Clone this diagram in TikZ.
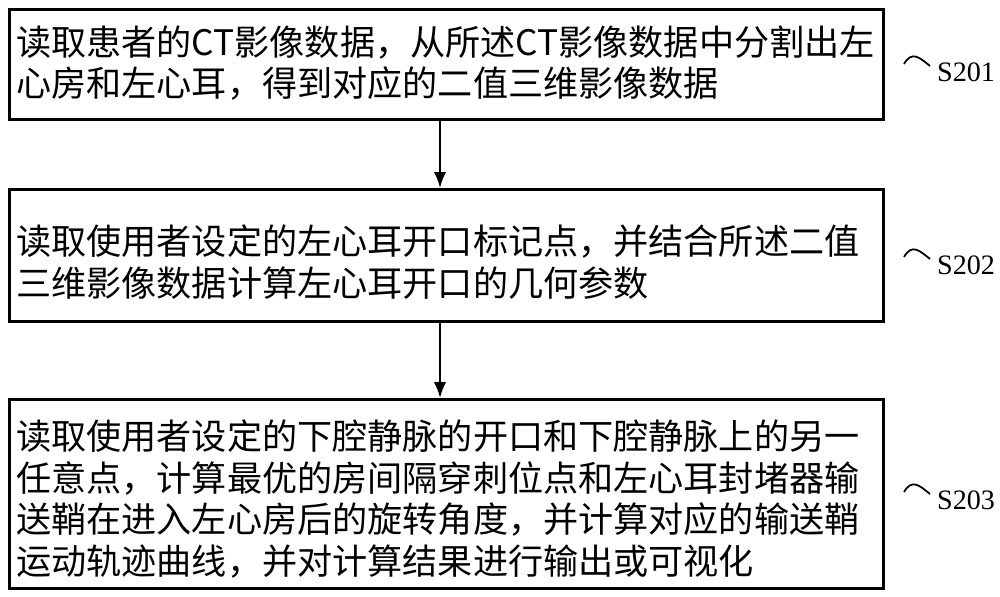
\documentclass[tikz,border=0pt]{standalone}
\usepackage{fontspec}
\setmainfont{Liberation Serif}
\newfontfamily\cjk{Noto Sans CJK SC}
\usetikzlibrary{arrows.meta}
\begin{document}
\begin{tikzpicture}[x=0.02cm,y=-0.02cm,
  stepbox/.style={draw,line width=1.6pt,anchor=north west,inner sep=0pt},
  txt/.style={anchor=west,align=left,font=\cjk\fontsize{20}{23.8}\selectfont},
  lab/.style={anchor=west,font=\fontsize{16}{18}\selectfont},
  arr/.style={-{Latex[length=9pt,width=7pt]},line width=1.2pt}]
\useasboundingbox (0,0) rectangle (1000,597);
\node[stepbox,minimum width=874*0.02cm,minimum height=110*0.02cm] (b1) at (8,8) {};
\node[stepbox,minimum width=874*0.02cm,minimum height=132*0.02cm] (b2) at (8,188) {};
\node[stepbox,minimum width=874*0.02cm,minimum height=189*0.02cm] (b3) at (8,398) {};
\node[txt] (t1) at (10,63) {读取患者的CT影像数据，从所述CT影像数据中分割出左\\心房和左心耳，得到对应的二值三维影像数据};
\node[txt] (t2) at (10,262) {读取使用者设定的左心耳开口标记点，并结合所述二值\\三维影像数据计算左心耳开口的几何参数};
\node[txt] (t3) at (10,499) {读取使用者设定的下腔静脉的开口和下腔静脉上的另一\\任意点，计算最优的房间隔穿刺位点和左心耳封堵器输\\送鞘在进入左心房后的旋转角度，并计算对应的输送鞘\\运动轨迹曲线，并对计算结果进行输出或可视化};
\draw[arr] (b1.south -| 440,0) -- (b2.north -| 440,0);
\draw[arr] (b2.south -| 440,0) -- (b3.north -| 440,0);
\foreach \n/\y in {1/72,2/265,3/500}{
  \coordinate (c\n) at (904,\y-8);
  \draw[line width=1pt] (c\n) .. controls (912,\y-22) and (920,\y-14) .. (930,\y-6);
  \node[lab] (s\n) at (931,\y) {S20\n};
}
\end{tikzpicture}
\end{document}
